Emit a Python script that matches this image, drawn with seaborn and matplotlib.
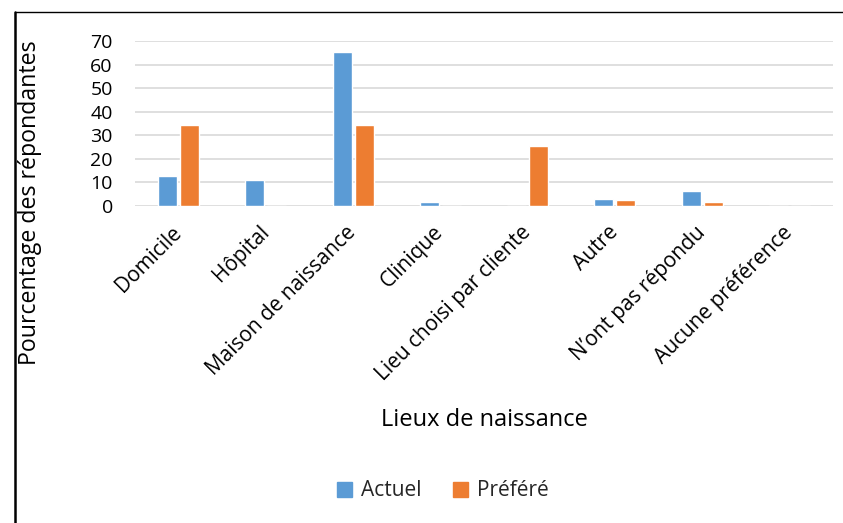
import matplotlib
matplotlib.use("Agg")
import matplotlib.pyplot as plt
from matplotlib.lines import Line2D
import seaborn as sns
import pandas as pd

categories = ["Domicile", "Hôpital", "Maison de naissance", "Clinique",
              "Lieu choisi par cliente", "Autre", "N\u2019ont pas répondu",
              "Aucune préférence"]
actuel = [12.6, 10.8, 65.2, 1.7, 0.0, 2.7, 6.2, 0.0]
prefere = [34.4, 0.0, 34.4, 0.0, 25.2, 2.5, 1.7, 0.0]
series = ["Actuel", "Préféré"]
colors = ["#5B9BD5", "#ED7D31"]
yticks = [0, 10, 20, 30, 40, 50, 60, 70]

df = pd.DataFrame({
    "Lieu": categories * 2,
    "Valeur": actuel + prefere,
    "Série": [series[0]] * len(categories) + [series[1]] * len(categories),
})

sns.set_theme(style="white")
plt.rcParams["font.family"] = ["Open Sans", "DejaVu Sans"]

W, H = 843, 523
fig = plt.figure(figsize=(W / 100, H / 100), dpi=100)
ax = fig.add_axes([135 / W, 1 - 205.7 / H, (833 - 135) / W, (205.7 - 41) / H])

sns.barplot(data=df, x="Lieu", y="Valeur", hue="Série", palette=colors,
            width=0.5, gap=0.13, ax=ax, legend=False, saturation=1)

ax.set_ylim(0, 70)
ax.set_xlim(-0.5, len(categories) - 0.5)
ax.set_yticks(yticks)
ax.set_yticklabels([str(v) for v in yticks], fontsize=14, color="#000000")
ax.yaxis.grid(True, color="#D9D9D9", linewidth=1.2)
ax.set_axisbelow(True)
for s in ax.spines.values():
    s.set_visible(False)
ax.tick_params(axis="y", length=0, pad=16)
ax.tick_params(axis="x", length=0, pad=17)
ax.set_xticks(range(len(categories)))
ax.set_xticklabels(categories, rotation=45, ha="right", va="center",
                   rotation_mode="anchor", fontsize=15, color="#000000")

ax.set_xlabel("Lieux de naissance", fontsize=17, color="#000000", va="center")
ax.xaxis.set_label_coords(0.5, -(420 - 205.7) / 164.7)
ax.set_ylabel("Pourcentage des répondantes", fontsize=16.7, color="#000000", va="center")
ax.yaxis.set_label_coords((30 - 135) / 698, (205.7 - 203) / 164.7)

handles = [plt.Rectangle((0, 0), 1, 1, color=c) for c in colors]
fig.legend(handles, series, loc="center", bbox_to_anchor=(443 / W, 1 - 491 / H),
           ncol=2, frameon=False, fontsize=15, handlelength=0.7, handleheight=0.7,
           columnspacing=1.5, handletextpad=0.45)

# chart frame lines (left and top)
fig.add_artist(Line2D([15 / W, 15 / W], [0, 1 - 12 / H], color="black", linewidth=1.8,
                      transform=fig.transFigure))
fig.add_artist(Line2D([15 / W, 1], [1 - 12 / H, 1 - 12 / H], color="black", linewidth=1.0,
                      transform=fig.transFigure))

fig.savefig("out.png", dpi=100, facecolor="white")
